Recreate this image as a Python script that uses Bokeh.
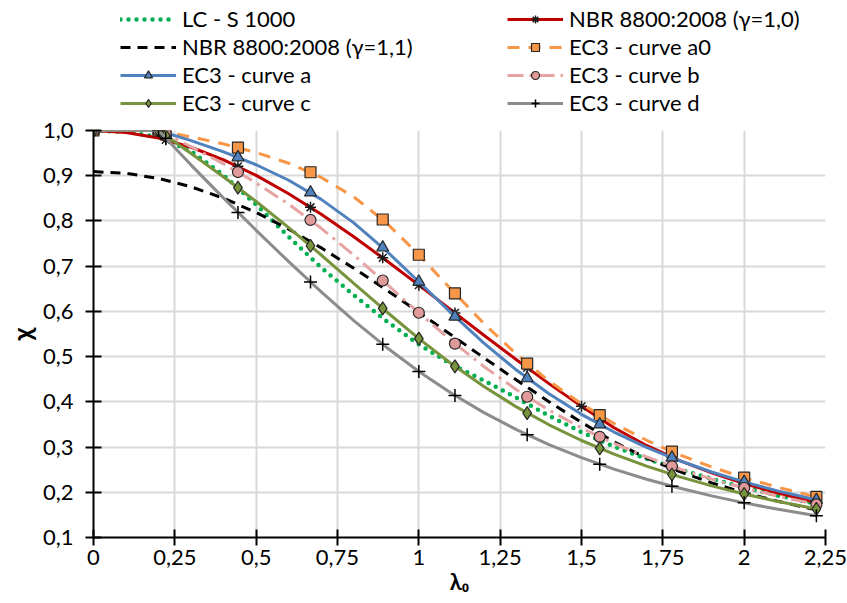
from bokeh.plotting import figure
from bokeh.models import Range1d, FixedTicker, Legend, LegendItem
from bokeh.layouts import column
from bokeh.embed import file_html
from bokeh.resources import INLINE

# ---------------- data ----------------
X_TICKS = [0, 0.25, 0.5, 0.75, 1.0, 1.25, 1.5, 1.75, 2.0, 2.25]
X_TICK_LABELS = ["0", "0,25", "0,5", "0,75", "1", "1,25", "1,5", "1,75", "2", "2,25"]
Y_TICKS = [0.1, 0.2, 0.3, 0.4, 0.5, 0.6, 0.7, 0.8, 0.9, 1.0]
Y_TICK_LABELS = ["0,1", "0,2", "0,3", "0,4", "0,5", "0,6", "0,7", "0,8", "0,9", "1,0"]
X_TITLE = "λ₀"
Y_TITLE = "χ"

# slenderness values for the curves (lines)
LX = [0, 0.1, 0.2, 0.3, 0.4, 0.5, 0.6, 0.7, 0.8, 0.9, 1.0, 1.1, 1.2, 1.3, 1.4, 1.5,
      1.6, 1.7, 1.8, 1.9, 2.0, 2.1, 2.2, 2.222]
LC_S = [1.0, 0.997, 0.986, 0.954, 0.901, 0.836, 0.765, 0.697, 0.636, 0.579, 0.527, 0.483,
        0.447, 0.409, 0.369, 0.333, 0.301, 0.274, 0.251, 0.230, 0.211, 0.193, 0.178, 0.175]
NBR10 = [1.0, 0.9958, 0.9834, 0.9630, 0.9352, 0.9007, 0.8601, 0.8146, 0.7650, 0.7125, 0.6580,
         0.6027, 0.5473, 0.4930, 0.4403, 0.3900, 0.3426, 0.3035, 0.2707, 0.2429, 0.2193,
         0.1989, 0.1812, 0.1776]
NBR11 = [0.9091, 0.9053, 0.8940, 0.8755, 0.8502, 0.8188, 0.7819, 0.7405, 0.6955, 0.6477,
         0.5982, 0.5479, 0.4975, 0.4482, 0.4003, 0.3545, 0.3114, 0.2759, 0.2461, 0.2208,
         0.1993, 0.1808, 0.1647, 0.1615]
EC3_A0 = [1.0, 1.0, 1.0, 0.9859, 0.9701, 0.9513, 0.9276, 0.8961, 0.8533, 0.7961, 0.7253,
          0.6482, 0.5732, 0.5053, 0.4461, 0.3953, 0.3520, 0.3150, 0.2833, 0.2559, 0.2323,
          0.2117, 0.1937, 0.1900]
EC3_A = [1.0, 1.0, 1.0, 0.9775, 0.9528, 0.9243, 0.8900, 0.8477, 0.7957, 0.7339, 0.6656,
         0.5960, 0.5300, 0.4703, 0.4179, 0.3724, 0.3332, 0.2994, 0.2702, 0.2449, 0.2229,
         0.2036, 0.1867, 0.1832]
EC3_B = [1.0, 1.0, 1.0, 0.9641, 0.9261, 0.8842, 0.8371, 0.7837, 0.7245, 0.6612, 0.5970,
         0.5352, 0.4781, 0.4269, 0.3817, 0.3422, 0.3079, 0.2781, 0.2521, 0.2294, 0.2095,
         0.1920, 0.1765, 0.1733]
EC3_C = [1.0, 1.0, 1.0, 0.9491, 0.8973, 0.8430, 0.7854, 0.7247, 0.6622, 0.5998, 0.5399,
         0.4842, 0.4338, 0.3888, 0.3492, 0.3145, 0.2842, 0.2577, 0.2345, 0.2141, 0.1962,
         0.1803, 0.1662, 0.1633]
EC3_D = [1.0, 1.0, 1.0, 0.9235, 0.8504, 0.7793, 0.7100, 0.6431, 0.5797, 0.5208, 0.4671,
         0.4189, 0.3762, 0.3385, 0.3055, 0.2766, 0.2512, 0.2289, 0.2093, 0.1920, 0.1766,
         0.1630, 0.1508, 0.1483]

# marker positions
MX = [0, 0.2, 0.222, 0.444, 0.667, 0.889, 1.0, 1.111, 1.333, 1.556, 1.778, 2.0, 2.222]
A0_M = [1.0, 1.0, 0.9970, 0.9622, 0.9077, 0.8032, 0.7253, 0.6397, 0.4846, 0.3704, 0.2899, 0.2323, 0.1900]
A_M = [1.0, 1.0, 0.9951, 0.9407, 0.8629, 0.7412, 0.6656, 0.5884, 0.4521, 0.3499, 0.2764, 0.2229, 0.1832]
B_M = [1.0, 1.0, 0.9921, 0.9081, 0.8022, 0.6683, 0.5970, 0.5286, 0.4112, 0.3226, 0.2575, 0.2095, 0.1733]
C_M = [1.0, 1.0, 0.9887, 0.8736, 0.7452, 0.6067, 0.5399, 0.4784, 0.3750, 0.2972, 0.2394, 0.1962, 0.1633]
D_M = [1.0, 1.0, 0.9826, 0.8186, 0.6651, 0.5271, 0.4671, 0.4139, 0.3270, 0.2621, 0.2134, 0.1766, 0.1483]
NX = [0, 0.222, 0.444, 0.667, 0.889, 1.0, 1.111, 1.333, 1.5, 1.556, 1.778, 2.0, 2.222]
NBR_M = [1.0, 0.9795, 0.9207, 0.8303, 0.7184, 0.6580, 0.5965, 0.4752, 0.3900, 0.3624, 0.2775, 0.2193, 0.1776]

NAMES = ["LC - S 1000", "NBR 8800:2008 (γ=1,0)", "NBR 8800:2008 (γ=1,1)", "EC3 - curve a0",
         "EC3 - curve a", "EC3 - curve b", "EC3 - curve c", "EC3 - curve d"]

FONT = "Lato"
OUT = "#262626"

# series styles (line style, marker style)
STYLES = {
    "lc": (dict(line_color="#00B050", line_width=4.5, line_dash="0 8", line_cap="round"), None),
    "n10": (dict(line_color="#C00000", line_width=3),
            dict(marker="asterisk", size=11, line_color="#1a1a1a", line_width=1.5)),
    "n11": (dict(line_color="black", line_width=3, line_dash="10 7"), None),
    "a0": (dict(line_color="#F79646", line_width=3, line_dash="12 9"),
           dict(marker="square", size=11, fill_color="#F79646", line_color=OUT, line_width=1.2)),
    "a": (dict(line_color="#4F81BD", line_width=3),
          dict(marker="triangle", size=12, fill_color="#4F81BD", line_color=OUT, line_width=1.2)),
    "b": (dict(line_color="#E6A3A3", line_width=3, line_dash="16 6 3 6"),
          dict(marker="circle", size=11, fill_color="#E09A9A", line_color=OUT, line_width=1.2)),
    "c": (dict(line_color="#77933C", line_width=3),
          dict(marker="diamond", size=13, fill_color="#77933C", line_color=OUT, line_width=1.2)),
    "d": (dict(line_color="#8C8C8C", line_width=3),
          dict(marker="cross", size=13, line_color="black", line_width=1.5)),
}
SERIES = [("lc", LX, LC_S, None, None), ("n10", LX, NBR10, NX, NBR_M), ("n11", LX, NBR11, None, None),
          ("a0", LX, EC3_A0, MX, A0_M), ("a", LX, EC3_A, MX, A_M), ("b", LX, EC3_B, MX, B_M),
          ("c", LX, EC3_C, MX, C_M), ("d", LX, EC3_D, MX, D_M)]
KEYS = [s[0] for s in SERIES]

# ---------------- main chart ----------------
p = figure(width=847, height=487, output_backend="svg", toolbar_location=None, title=None,
           x_range=Range1d(0, 2.25), y_range=Range1d(0.1, 1.0),
           min_border_left=93, min_border_right=22, min_border_top=14, min_border_bottom=66)
p.outline_line_color = None
p.background_fill_color = "white"
p.border_fill_color = "white"

for ax, ticks, labels in ((p.xaxis, X_TICKS, X_TICK_LABELS), (p.yaxis, Y_TICKS, Y_TICK_LABELS)):
    ax.ticker = FixedTicker(ticks=ticks)
    ax.major_label_overrides = dict(zip(ticks, labels))
    ax.axis_line_color = "black"
    ax.axis_line_width = 2
    ax.major_tick_line_color = "black"
    ax.major_tick_line_width = 2
    ax.major_tick_in = 8
    ax.major_tick_out = 8
    ax.minor_tick_line_color = None
    ax.major_label_text_font = FONT
    ax.major_label_text_font_size = "22px"
    ax.major_label_text_color = "black"
    ax.axis_label_text_font = FONT
    ax.axis_label_text_font_style = "bold"
    ax.axis_label_text_color = "black"
p.yaxis.major_label_standoff = 12
p.xaxis.major_label_standoff = 4
p.xaxis.axis_label = X_TITLE
p.xaxis.axis_label_text_font_size = "22px"
p.xaxis.axis_label_standoff = 0
p.yaxis.axis_label = Y_TITLE
p.yaxis.axis_label_text_font_size = "26px"
p.yaxis.axis_label_standoff = 2

p.xgrid.grid_line_color = "#D9D9D9"
p.ygrid.grid_line_color = "#D9D9D9"
p.xgrid.grid_line_width = 2
p.ygrid.grid_line_width = 2

for key, lx, ly, mx, my in SERIES:
    lstyle, mstyle = STYLES[key]
    p.line(lx, ly, **lstyle)
    if mstyle is not None:
        p.scatter(mx, my, **mstyle)

# ---------------- legend strip (same series, ranges chosen so only the legend shows) ----------------
top = figure(width=847, height=116, output_backend="svg", toolbar_location=None, title=None,
             x_range=Range1d(5, 6), y_range=Range1d(5, 6),
             min_border_left=0, min_border_right=0, min_border_top=0, min_border_bottom=0)
top.axis.visible = False
top.grid.visible = False
top.outline_line_color = None
top.background_fill_color = "white"
top.border_fill_color = "white"

lr = {}
for key, lx, ly, mx, my in SERIES:
    lstyle, mstyle = STYLES[key]
    rs = [top.line(lx, ly, **lstyle)]
    if mstyle is not None:
        rs.append(top.scatter(mx, my, **mstyle))
    lr[key] = rs

def make_legend(idx, x):
    items = [LegendItem(label=NAMES[i], renderers=lr[KEYS[i]]) for i in idx]
    return Legend(items=items, location=(x, 0), orientation="vertical",
                  glyph_width=56, glyph_height=20, label_standoff=6, spacing=1,
                  label_height=20, padding=0, margin=0,
                  border_line_color=None, background_fill_alpha=0,
                  label_text_font=FONT, label_text_font_size="22px", label_text_color="black")

top.add_layout(make_legend([0, 2, 4, 6], 27))
top.add_layout(make_legend([1, 3, 5, 7], 414))

layout = column(top, p, spacing=0)
open("out.html", "w").write(file_html(layout, INLINE))
